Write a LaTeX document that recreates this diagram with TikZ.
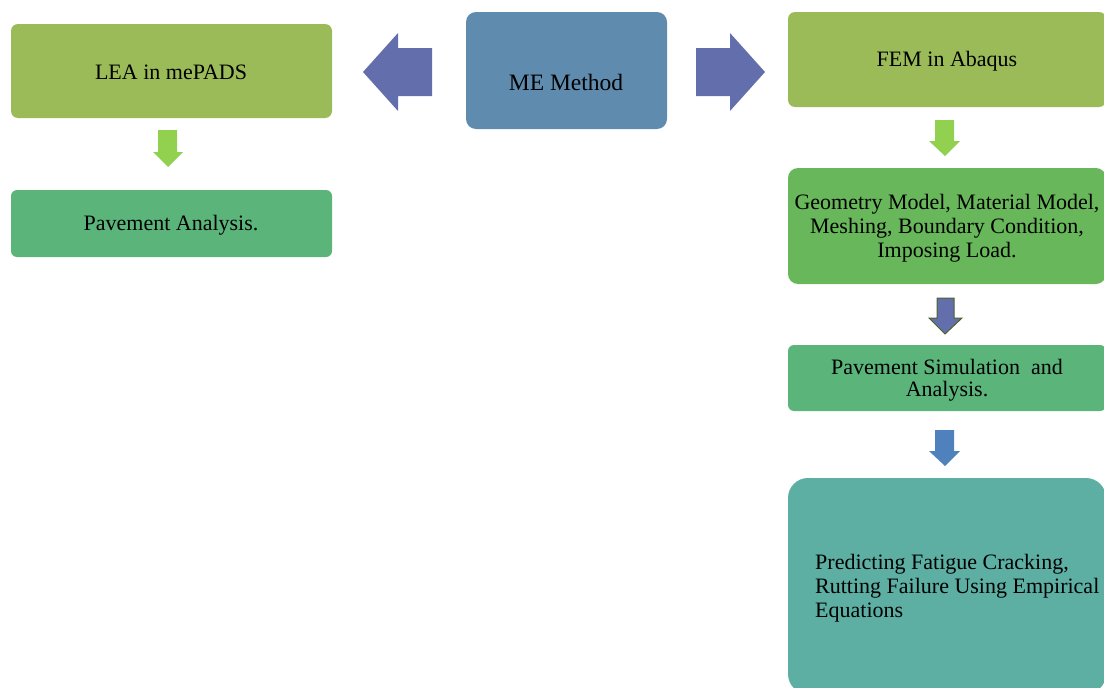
\documentclass[tikz,border=0pt]{standalone}
\usepackage{fontspec}
\setmainfont{Liberation Serif}
\definecolor{olive}{HTML}{9BBB59}
\definecolor{meblue}{HTML}{5F8CAE}
\definecolor{pgreen}{HTML}{5BB57A}
\definecolor{ggreen}{HTML}{68B75B}
\definecolor{teal2}{HTML}{5DAFA4}
\definecolor{arrpurple}{HTML}{636EAC}
\definecolor{arrgreen}{HTML}{92D050}
\definecolor{arrblue}{HTML}{4F81BD}
\definecolor{arredge}{HTML}{4F6228}
\tikzset{
  box/.style={inner sep=0pt, text=black, font=\fontsize{22}{24}\selectfont, align=center},
}
\begin{document}
\begin{tikzpicture}[x=1pt,y=-1pt]
\useasboundingbox (0,0) rectangle (1104,688);
\clip (0,0) rectangle (1104,688);
% boxes
\fill[olive, rounded corners=7pt] (11,24) rectangle (332,118);
\node[box] (lea) at (171,72) {LEA in mePADS};
\fill[pgreen, rounded corners=6pt] (11,190) rectangle (332,257);
\node[box] (pa) at (171,225) {Pavement Analysis.};
\fill[meblue, rounded corners=10pt] (466,12) rectangle (667,129);
\node[box, font=\fontsize{23.5}{26}\selectfont] (me) at (566,82) {ME Method};
\fill[olive, rounded corners=7pt] (788,12) rectangle (1106,107);
\node[box] (fem) at (947,61) {FEM in Abaqus};
\fill[ggreen, rounded corners=10pt] (788,168) rectangle (1106,284);
\node[box] (geo) at (947,228.5) {Geometry Model, Material Model,\\Meshing, Boundary Condition,\\Imposing Load.};
\fill[pgreen, rounded corners=6pt] (788,345) rectangle (1106,411);
\node[box, font=\fontsize{22}{22.5}\selectfont] (sim) at (947,380) {Pavement Simulation\ \ and\\Analysis.};
\fill[teal2, rounded corners=20pt] (788,478) rectangle (1106,694);
\node[box, align=left, anchor=west] (pred) at (815,588) {Predicting Fatigue Cracking,\\Rutting Failure Using Empirical\\Equations};
% block arrows
\fill[arrpurple] (363,72) -- (398,33) -- (398,48) -- (432,48) -- (432,96) -- (398,96) -- (398,111) -- cycle;
\fill[arrpurple] (765,72) -- (730,33) -- (730,48) -- (696,48) -- (696,96) -- (730,96) -- (730,111) -- cycle;
\fill[arrgreen] (158,130) -- (177,130) -- (177,152) -- (183,152) -- (168,167) -- (153,152) -- (158,152) -- cycle;
\fill[arrgreen] (935,120) -- (954,120) -- (954,141) -- (960,141) -- (945,156) -- (929,141) -- (935,141) -- cycle;
\filldraw[fill=arrpurple, draw=arredge, line width=1pt] (937,298) -- (954,298) -- (954,318) -- (962,318) -- (945,334) -- (929,318) -- (937,318) -- cycle;
\fill[arrblue] (935,430) -- (954,430) -- (954,451) -- (960,451) -- (945,466) -- (929,451) -- (935,451) -- cycle;
\end{tikzpicture}
\end{document}
